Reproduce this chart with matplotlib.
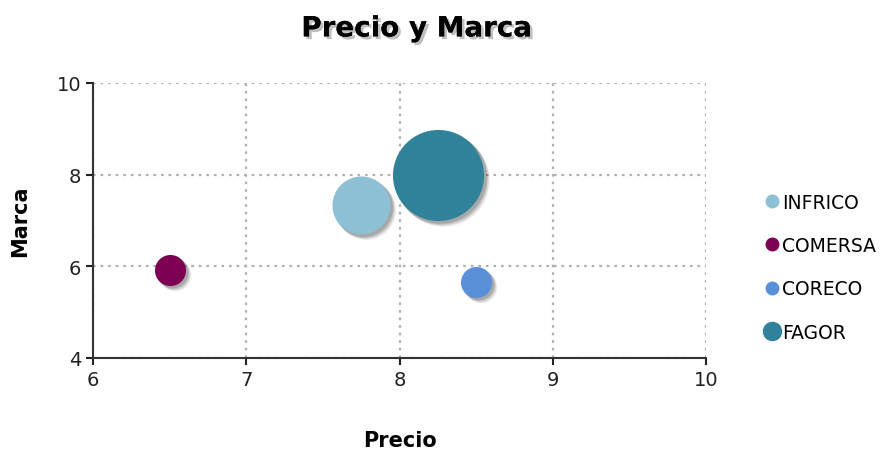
import matplotlib
matplotlib.use('Agg')
import matplotlib.pyplot as plt
from matplotlib.lines import Line2D
import matplotlib.patheffects as pe

# data
marcas = ["INFRICO", "COMERSA", "CORECO", "FAGOR"]
precio = [7.75, 6.5, 8.5, 8.25]
marca = [7.33, 5.92, 5.66, 8.0]
tamano = [3.5, 1.0, 1.0, 8.6]
colores = ["#8DC0D4", "#7D0052", "#5A8FD9", "#2F8299"]

xticks = [6, 7, 8, 9, 10]
yticks = [4, 6, 8, 10]

plt.rcParams['font.family'] = ['DejaVu Sans']

fig = plt.figure(figsize=(8.81, 4.52), dpi=100)
ax = fig.add_axes([0.1056, 0.2058, 0.6958, 0.6084])

escala = 500.0
sizes = [t * escala for t in tamano]

# soft shadows behind the bubbles
for dx, dy, a in [(5, -5, 0.07), (4, -4, 0.09), (3, -3, 0.11), (2, -2, 0.12)]:
    for x, y, s in zip(precio, marca, sizes):
        ax.scatter([x], [y], s=s * 1.03, color='black', alpha=a, linewidths=0,
                   zorder=2, transform=ax.transData + matplotlib.transforms.ScaledTranslation(dx / 100, dy / 100, fig.dpi_scale_trans))

for x, y, s, c, m in zip(precio, marca, sizes, colores, marcas):
    ax.scatter([x], [y], s=s, color=c, linewidths=0, zorder=3, label=m)

ax.set_xlim(6, 10)
ax.set_ylim(4, 10)
ax.set_xticks(xticks)
ax.set_yticks(yticks)
ax.tick_params(labelsize=14, colors='#222222', length=5, width=1.5)
ax.grid(True, linestyle=(0, (1.2, 2.2)), color='#b0b0b0', linewidth=1.6)
ax.set_axisbelow(True)
for side in ['top', 'right']:
    ax.spines[side].set_visible(False)
for side in ['left', 'bottom']:
    ax.spines[side].set_linewidth(1.5)
    ax.spines[side].set_color('#333333')

ax.set_xlabel('Precio', fontsize=15, fontweight='bold', labelpad=30)
ax.set_ylabel('Marca', fontsize=15, fontweight='bold', labelpad=19)

fig.text(0.473, 0.935, 'Precio y Marca', ha='center', va='center', fontsize=20,
         fontweight='bold',
         path_effects=[pe.withSimplePatchShadow(offset=(2, -2), alpha=0.25), pe.Normal()])

handles = [Line2D([], [], marker='o', linestyle='', color=c, markersize=ms)
           for c, ms in zip(colores, [9, 9, 9, 13])]
ax.legend(handles, marcas, loc='center left', bbox_to_anchor=(1.065, 0.33),
          frameon=False, fontsize=13.5, handletextpad=0.05, labelspacing=1.3,
          handlelength=1.0)

fig.savefig('out.png', dpi=100)
